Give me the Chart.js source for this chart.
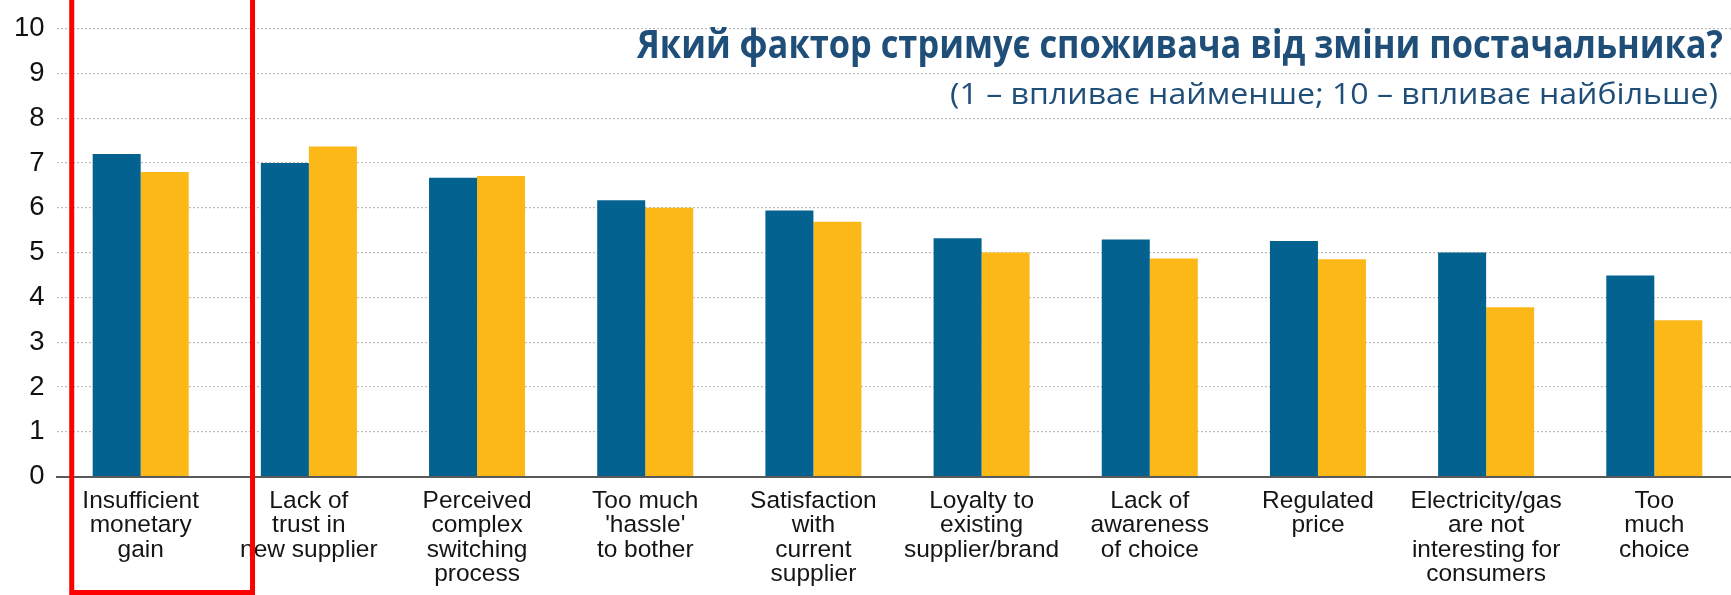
<!DOCTYPE html>
<html lang="uk">
<head>
  <meta charset="UTF-8" />
  <title>Фактори зміни постачальника</title>
  <script src="https://cdn.jsdelivr.net/npm/chart.js"></script>
  <style>
    body {
      margin: 0;
      background: #fff;
      overflow: hidden;
    }

    .wrap {
      width: 1740px;
      height: 595px;
      position: relative;
    }
  </style>
</head>
<body>
  <div class="wrap">
    <canvas id="chart"></canvas>
  </div>

  <script>
    const categories = [
      ["Insufficient", "monetary", "gain"],
      ["Lack of", "trust in", "new supplier"],
      ["Perceived", "complex", "switching", "process"],
      ["Too much", "'hassle'", "to bother"],
      ["Satisfaction", "with", "current", "supplier"],
      ["Loyalty to", "existing", "supplier/brand"],
      ["Lack of", "awareness", "of choice"],
      ["Regulated", "price"],
      ["Electricity/gas", "are not", "interesting for", "consumers"],
      ["Too", "much", "choice"]
    ];
    const seriesBlue = [7.2, 7.0, 6.67, 6.17, 5.94, 5.32, 5.29, 5.26, 5.0, 4.49];
    const seriesYellow = [6.8, 7.37, 6.71, 6.0, 5.69, 5.0, 4.87, 4.85, 3.78, 3.49];
    const yTicks = [0, 1, 2, 3, 4, 5, 6, 7, 8, 9, 10];

    const titleText = "Який фактор стримує споживача від зміни постачальника?";
    const subtitleText = "(1 – впливає найменше; 10 – впливає найбільше)";

    // title block, drawn right-aligned inside the plot, squeezed to the Calibri width
    const titlePlugin = {
      id: "titleBlock",
      afterDraw(chart) {
        const ctx = chart.ctx;
        const lines = [
          { text: titleText, font: "bold 40px 'Open Sans'", right: 1723, base: 57.5, width: 1086 },
          { text: subtitleText, font: "30px 'Open Sans'", right: 1718, base: 103.5, width: 768 }
        ];
        ctx.save();
        ctx.fillStyle = "#1f4e79";
        ctx.textAlign = "right";
        ctx.textBaseline = "alphabetic";
        lines.forEach(l => {
          ctx.font = l.font;
          const w = ctx.measureText(l.text).width;
          ctx.save();
          ctx.translate(l.right, l.base);
          ctx.scale(l.width / w, 1);
          ctx.fillText(l.text, 0, 0);
          ctx.restore();
        });
        ctx.restore();
      }
    };

    // red highlight frame around the first category
    const framePlugin = {
      id: "frame",
      afterDraw(chart) {
        const x = chart.scales.x;
        const step = x.getPixelForValue(1) - x.getPixelForValue(0);
        const c = x.getPixelForValue(0);
        const ctx = chart.ctx;
        ctx.save();
        ctx.strokeStyle = "#ff0000";
        ctx.lineWidth = 5;
        ctx.strokeRect(c - 0.41 * step, -10, 1.075 * step, chart.height - 2.5 + 10);
        ctx.restore();
      }
    };

    new Chart(document.getElementById("chart"), {
      type: "bar",
      data: {
        labels: categories,
        datasets: [
          { label: "A", data: seriesBlue, backgroundColor: "#03628f" },
          { label: "B", data: seriesYellow, backgroundColor: "#fbb816" }
        ]
      },
      options: {
        responsive: true,
        maintainAspectRatio: false,
        animation: false,
        layout: { padding: { top: 25, right: 1.6, left: 0, bottom: 0 } },
        plugins: {
          legend: { display: false },
          tooltip: { enabled: false }
        },
        datasets: {
          bar: { categoryPercentage: 0.571, barPercentage: 1.0 }
        },
        scales: {
          x: {
            grid: { display: false, drawTicks: false },
            border: { display: true, color: "#5a5a5a", width: 2 },
            ticks: {
              color: "#151515",
              font: { family: "'Liberation Sans', Arial, sans-serif", size: 24.5, lineHeight: 1.0 },
              maxRotation: 0,
              autoSkip: false,
              padding: 12
            },
            afterFit(scale) { scale.height = 118.3; }
          },
          y: {
            min: 0,
            max: 10,
            afterBuildTicks(scale) { scale.ticks = yTicks.map(v => ({ value: v })); },
            grid: {
              color: "#bdbdbd",
              lineWidth: 1.2,
              drawTicks: false
            },
            border: { display: false, dash: [2, 2] },
            ticks: {
              color: "#111",
              font: { family: "'Liberation Sans', Arial, sans-serif", size: 27.5 },
              padding: 12
            },
            afterFit(scale) { scale.width = 56.6; }
          }
        }
      },
      plugins: [titlePlugin, framePlugin]
    });
  </script>
</body>
</html>
